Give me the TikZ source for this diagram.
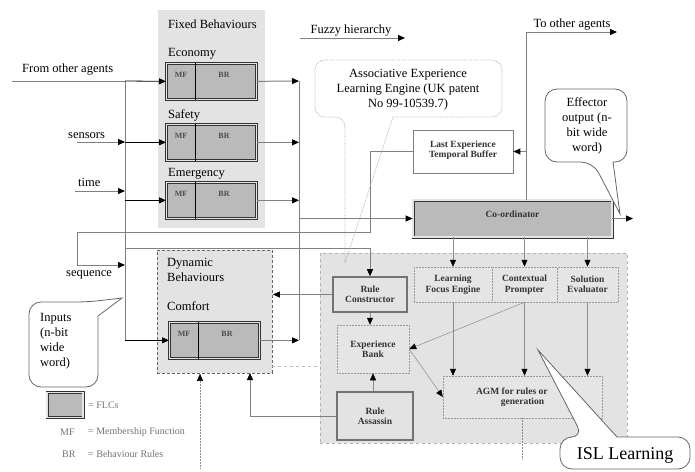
\documentclass[tikz,border=0pt]{standalone}
\usepackage{fontspec}
\setmainfont{Liberation Serif}
\usepackage{tikz}
\usetikzlibrary{arrows.meta,calc,positioning}

\tikzset{
  lbl/.style={font=\fontsize{12.5}{15}\selectfont, inner sep=0pt},
  boxlbl/.style={font=\fontsize{9.5}{10.5}\selectfont\bfseries, align=center, text=black!80},
  flctext/.style={font=\fontsize{8}{9}\selectfont\bfseries, text=black!70, inner sep=0pt},
  legtext/.style={font=\fontsize{10}{11}\selectfont, text=black!55, inner sep=0pt, anchor=west},
  panel/.style={fill=black!11, draw=none, inner sep=0pt},
  flc/.style={draw=black!80, line width=0.7pt, double=black!10, double distance=1.6pt, fill=black!27, inner sep=0pt, minimum width=90pt, minimum height=36pt},
  solidbox/.style={draw=black!55, line width=1.6pt, fill=black!11, inner sep=0pt},
  dotbox/.style={draw=black!40, densely dotted, line width=0.5pt, fill=black!10, inner sep=0pt},
  conn/.style={draw=black!50, line width=1pt},
  blackconn/.style={draw=black, line width=0.8pt},
  thinline/.style={draw=black!45, line width=0.5pt},
  arr/.style={-{Triangle[length=7pt,width=6pt,color=black]}},
  callout/.style={draw=black!60, line width=0.8pt, fill=white},
}

% FLC box: name, north west corner
\newcommand{\flcbox}[2]{%
  \node (#1) [flc, anchor=north west] at (#2) {};
  \draw[black, line width=0.9pt] ($(#1.north west)+(29,0)$) -- ($(#1.south west)+(29,0)$);
  \node (#1mf) [flctext] at ($(#1.north west)+(15,12)$) {MF};
  \node (#1br) [flctext] at ($(#1.north west)+(58,12)$) {BR};
}

\begin{document}
\begin{tikzpicture}[x=1pt, y=-1pt]
\useasboundingbox (0,0) rectangle (695,471);
% Panels
\node (fixed) [panel, anchor=north west, minimum width=107pt, minimum height=218pt] at (158,10) {};
\node (dyn) [panel, draw=black!60, densely dashed, line width=0.8pt, anchor=north west, minimum width=115pt, minimum height=123pt] at (157,250) {};
\node (isl) [panel, draw=black!30, dashed, line width=0.5pt, anchor=north west, minimum width=307pt, minimum height=190pt] at (320,253) {};
\coordinate (faintA) at (272,366);
\coordinate (faintB) at (320,366);
\draw[thinline, dashed, draw=black!25] (faintA) -- (faintB);

% Fixed behaviours
\node (fixedlbl) [lbl, anchor=west] at (168,24) {Fixed Behaviours};
\node (econlbl) [lbl, anchor=west] at (168,54) {Economy};
\flcbox{econ}{166,63}
\node (safelbl) [lbl, anchor=west] at (168,115) {Safety};
\flcbox{safe}{166,124}
\node (emerlbl) [lbl, anchor=west] at (168,174) {Emergency};
\flcbox{emer}{166,182}

% Dynamic behaviours
\node (dynlbl) [lbl, anchor=north west, align=left] at (167,258) {Dynamic\\Behaviours};
\node (comflbl) [lbl, anchor=west] at (167,306) {Comfort};
\flcbox{comf}{169,322}

% Input bus
\coordinate (ibtop) at (125,81);
\coordinate (ibbot) at (125,340);
\draw[conn] (ibtop) -- (ibbot);
\coordinate (fromag) at (12,81);
\draw[conn] (fromag) -- (ibtop);
\node (fromlbl) [lbl, anchor=base west] at (22,72) {From other agents};
\draw[blackconn, arr] (ibtop) -- (econ.west);
\coordinate (sens) at (77,142);
\draw[conn, arr] (sens) -- (sens -| ibtop);
\node (senslbl) [lbl, anchor=base west] at (68,138) {sensors};
\draw[blackconn, arr] (ibtop |- safe.west) -- (safe.west);
\coordinate (tim) at (75,191);
\draw[conn, arr] (tim) -- (tim -| ibtop);
\node (timlbl) [lbl, anchor=base west] at (78,186) {time};
\draw[blackconn, arr] (ibtop |- emer.west) -- (emer.west);
\draw[blackconn, arr] (ibtop |- comf.west) -- (comf.west);

% Output bus
\coordinate (obtop) at (299,81);
\coordinate (obbot) at (299,340);
\draw[conn] (obtop) -- (obbot);
\draw[conn, arr] (econ.east) -- (obtop);
\draw[conn, arr] (safe.east) -- (safe.east -| obtop);
\draw[conn, arr] (emer.east) -- (emer.east -| obtop);
\draw[conn, arr] (comf.east) -- (comf.east -| obtop);

% Fuzzy hierarchy
\coordinate (fzs) at (300,38);
\coordinate (fze) at (405,38);
\draw[conn, arr] (fzs) -- (fze);
\node (fzlbl) [lbl, anchor=base] at (351,33) {Fuzzy hierarchy};

% Co-ordinator and buffer
\node (coord) [flc, boxlbl, minimum width=199pt, minimum height=37pt, text depth=8pt] at (512.5,218.5) {Co-ordinator};
\node (buffer) [draw=black!50, line width=0.7pt, fill=white, boxlbl, minimum width=100pt, minimum height=43pt, text depth=5pt] at (463,151.5) {Last Experience\\Temporal Buffer};
\draw[conn, arr] (obtop |- coord.west) -- (coord.west);
\coordinate (effout) at (633,218.5);
\draw[conn, arr] (coord.east) -- (effout);
\coordinate (tap) at ($(coord.north west)+(114,0)$);
\coordinate (toag) at (617,32);
\draw[conn, arr] (tap) |- (toag);
\node (tolbl) [lbl, anchor=base] at (572,27) {To other agents};
\draw[conn, arr] (tap |- buffer.east) -- (buffer.east);

% Sequence feedback
\coordinate (seqturn) at (370,232);
\coordinate (seqleft) at (77,232);
\coordinate (seqin) at (125,265);
\draw[conn, arr] (buffer.west) -| (seqturn) -- (seqleft) |- (seqin);
\node (seqlbl) [lbl, anchor=base west] at (66,276) {sequence};

% ISL learning blocks
\node (rcon) [solidbox, boxlbl, minimum width=74pt, minimum height=35pt] at (370,294.5) {Rule\\Constructor};
\node (bank) [dotbox, boxlbl, minimum width=72pt, minimum height=48pt] at (373,349) {Experience\\Bank};
\node (rass) [solidbox, boxlbl, minimum width=76pt, minimum height=48pt] at (375,416) {Rule\\Assassin};
\node (lfe) [dotbox, boxlbl, minimum width=78pt, minimum height=35pt] at (453,284.5) {Learning\\Focus Engine};
\node (cp) [dotbox, boxlbl, minimum width=65pt, minimum height=35pt] at (524.5,284.5) {Contextual\\Prompter};
\node (se) [dotbox, boxlbl, minimum width=61pt, minimum height=35pt] at (587.5,284.5) {Solution\\Evaluator};
\node (agm) [dotbox, boxlbl, minimum width=159pt, minimum height=42pt] at (522.5,397) {AGM for rules or\hphantom{ FLC}\\generation};

\coordinate (rcfeed) at (125,248);
\draw[conn, arr] (rcfeed) -| (rcon.north);
\draw[conn, arr] (rcon.west) -- (rcon.west -| dyn.east);
\coordinate (dynin) at (250,373);
\draw[conn, arr] (rass.west) -| (dynin);
\coordinate (extin) at (200,468);
\draw[thinline, densely dotted, arr] (extin) -- (extin |- dyn.south);

\draw[thinline, arr] (coord.south -| lfe.north) -- (lfe.north);
\draw[thinline, arr] (coord.south -| cp.north) -- (cp.north);
\draw[thinline, arr] (coord.south -| se.north) -- (se.north);
\draw[thinline, arr] (lfe.south) -- (lfe.south |- agm.north);
\draw[thinline, arr] (cp.south) -- (cp.south |- agm.north);
\draw[thinline, arr] (se.south) -- (se.south |- agm.north);
\draw[thinline, arr] (cp.south) -- (bank.east);
\draw[thinline, arr] (bank.east) -- (agm.west);
\draw[thinline, arr] (rcon.south) -- (rcon.south |- bank.north);
\draw[thinline, arr] (bank.south |- rass.north) -- (bank.south);
\draw[thinline, densely dotted] (agm.south) -- ++(0,42);

% Callouts
\draw[draw=black!30, densely dotted, line width=0.8pt] (345,117) -- (345,263) -- (393,117) [rounded corners=10pt] -- (502,117) -- (502,60) -- (315,60) -- (315,117) -- cycle;
\node (aelbl) [lbl, align=center] at (408,90) {Associative Experience\\Learning Engine (UK patent\\No 99-10539.7)};

\draw[callout] (593,162) -- (620,214) -- (613,162) [rounded corners=12pt] -- (627,162) -- (627,89) -- (545,89) -- (545,162) -- cycle;
\node (efflbl) [lbl, align=center] at (587,126) {Effector\\output (n-\\bit wide\\word)};

\draw[callout] (88,302) -- (122,298) -- (98,316) [rounded corners=12pt] -- (98,387) -- (29,387) -- (29,302) -- cycle;
\node (inlbl) [lbl, align=left, anchor=north west] at (40,313) {Inputs\\(n-bit\\wide\\word)};

\draw[callout] (583,437) -- (538,350) -- (617,437) [rounded corners=12pt] -- (690,437) -- (690,469) -- (560,469) -- (560,437) -- cycle;
\node (isllbl) [font=\fontsize{18}{20}\selectfont, inner sep=0pt] at (625,455) {ISL Learning};

% Legend
\node (legflc) [flc, minimum width=36pt, minimum height=25pt] at (65,405) {};
\node (legflclbl) [legtext] at (88,405) {= FLCs};
\node (legmf) [legtext] at (60,432) {MF};
\node (legmfdef) [legtext] at (88,432) {= Membership Function};
\node (legbr) [legtext] at (62,454) {BR};
\node (legbrdef) [legtext] at (88,454) {= Behaviour Rules};
\end{tikzpicture}
\end{document}
